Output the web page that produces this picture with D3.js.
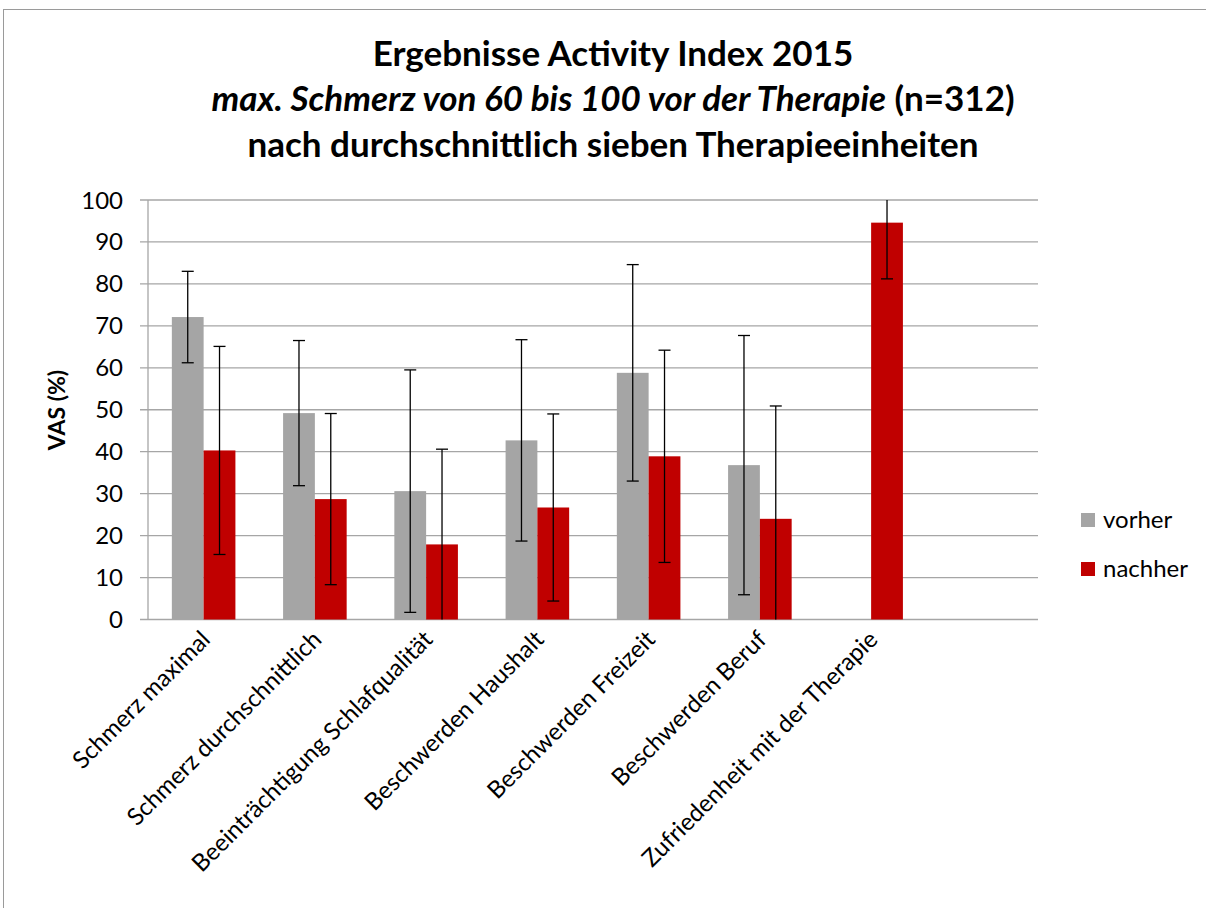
<!DOCTYPE html>
<html>
<head>
<meta charset="utf-8">
<script src="https://cdn.jsdelivr.net/npm/d3@7"></script>
<style>
  body { margin: 0; background: #fff; }
  svg { font-family: Lato, "Open Sans", sans-serif; }
</style>
</head>
<body>
<svg id="chart" width="1206" height="908"></svg>
<script>
"use strict";

// categories (last slot is empty in the original)
const categories = [
    "Schmerz maximal",
    "Schmerz durchschnittlich",
    "Beeinträchtigung Schlafqualität",
    "Beschwerden Haushalt",
    "Beschwerden Freizeit",
    "Beschwerden Beruf",
    "Zufriedenheit mit der Therapie",
    ""
];
const vorher = [72.1, 49.2, 30.6, 42.7, 58.8, 36.8, null, null];
const vorherSD = [10.9, 17.3, 28.9, 24.0, 25.8, 30.9, null, null];
const nachher = [40.3, 28.7, 17.9, 26.7, 38.9, 24.0, 94.6, null];
const nachherSD = [24.8, 20.4, 22.7, 22.3, 25.3, 26.9, 13.4, null];
const yTicks = [0, 10, 20, 30, 40, 50, 60, 70, 80, 90, 100];
const seriesNames = ["vorher", "nachher"];
const seriesColors = ["#A5A5A5", "#C00000"];

const svg = d3.select('#chart');

// outer frame
svg.append('rect')
    .attr('x', 3.5).attr('y', 9.5)
    .attr('width', 1210).attr('height', 905)
    .attr('fill', 'none')
    .attr('stroke', '#9a9a9a');

const x = d3.scaleBand().domain(categories).range([148, 1038]);
const y = d3.scaleLinear().domain([0, 100]).range([619.5, 200]);
const barW = x.bandwidth() / 3.5;

// gridlines + ticks
svg.append('g').selectAll('line').data(yTicks)
    .enter().append('line')
    .attr('x1', 140).attr('x2', 1038)
    .attr('y1', d => y(d)).attr('y2', d => y(d))
    .attr('stroke', '#a6a6a6').attr('stroke-width', 1.3);

svg.append('line')
    .attr('x1', 148).attr('x2', 148)
    .attr('y1', y(100)).attr('y2', y(0))
    .attr('stroke', '#a6a6a6').attr('stroke-width', 1.3);

svg.append('g').selectAll('text').data(yTicks)
    .enter().append('text')
    .attr('x', 123)
    .attr('y', d => y(d) + 8.5)
    .attr('text-anchor', 'end')
    .attr('font-size', 24)
    .text(d => d);

// bars
const series = [
    {vals: vorher, sd: vorherSD, off: 0.75},
    {vals: nachher, sd: nachherSD, off: 1.75}
];

series.forEach((s, si) => {
    const g = svg.append('g');
    const idx = d3.range(categories.length).filter(i => s.vals[i] != null);
    g.selectAll('rect').data(idx)
        .enter().append('rect')
        .attr('x', i => x(categories[i]) + s.off * barW)
        .attr('y', i => y(s.vals[i]))
        .attr('width', barW)
        .attr('height', i => y(0) - y(s.vals[i]))
        .attr('fill', seriesColors[si]);
});

// error bars (drawn above all bars)
series.forEach((s) => {
    const g = svg.append('g').attr('stroke', '#000').attr('stroke-width', 1.3);
    const idx = d3.range(categories.length).filter(i => s.vals[i] != null);
    idx.forEach(i => {
        const cx = x(categories[i]) + (s.off + 0.5) * barW;
        const lo = s.vals[i] - s.sd[i];
        const hi = s.vals[i] + s.sd[i];
        g.append('line')
            .attr('x1', cx).attr('x2', cx)
            .attr('y1', y(Math.max(lo, 0))).attr('y2', y(Math.min(hi, 100)));
        if (lo >= 0) {
            g.append('line').attr('x1', cx - 6).attr('x2', cx + 6)
                .attr('y1', y(lo)).attr('y2', y(lo));
        }
        if (hi <= 100) {
            g.append('line').attr('x1', cx - 6).attr('x2', cx + 6)
                .attr('y1', y(hi)).attr('y2', y(hi));
        }
    });
});

// x labels rotated
svg.append('g').selectAll('text').data(categories)
    .enter().append('text')
    .attr('text-anchor', 'end')
    .attr('font-size', 24)
    .attr('transform', d => `translate(${x(d) + x.bandwidth() / 2 + 8},${641}) rotate(-45)`)
    .text(d => d);

// y axis title
svg.append('text')
    .attr('transform', 'translate(65,410) rotate(-90)')
    .attr('text-anchor', 'middle')
    .attr('font-size', 23)
    .attr('font-weight', 'bold')
    .text('VAS (%)');

// title
const title = svg.append('g')
    .attr('font-size', 35)
    .attr('font-weight', 'bold')
    .attr('text-anchor', 'middle');
title.append('text').attr('x', 613).attr('y', 66).text('Ergebnisse Activity Index 2015');
const t2 = title.append('text').attr('x', 613).attr('y', 111);
t2.append('tspan').attr('font-style', 'italic').text('max. Schmerz von 60 bis 100 vor der Therapie');
t2.append('tspan').text(' (n=312)');
title.append('text').attr('x', 613).attr('y', 157).text('nach durchschnittlich sieben Therapieeinheiten');

// legend
const legend = svg.append('g');
seriesNames.forEach((n, i) => {
    legend.append('rect')
        .attr('x', 1081).attr('y', 513 + i * 49)
        .attr('width', 14).attr('height', 14)
        .attr('fill', seriesColors[i]);
    legend.append('text')
        .attr('x', 1103).attr('y', 528 + i * 49)
        .attr('font-size', 24)
        .text(n);
});
</script>
</body>
</html>
